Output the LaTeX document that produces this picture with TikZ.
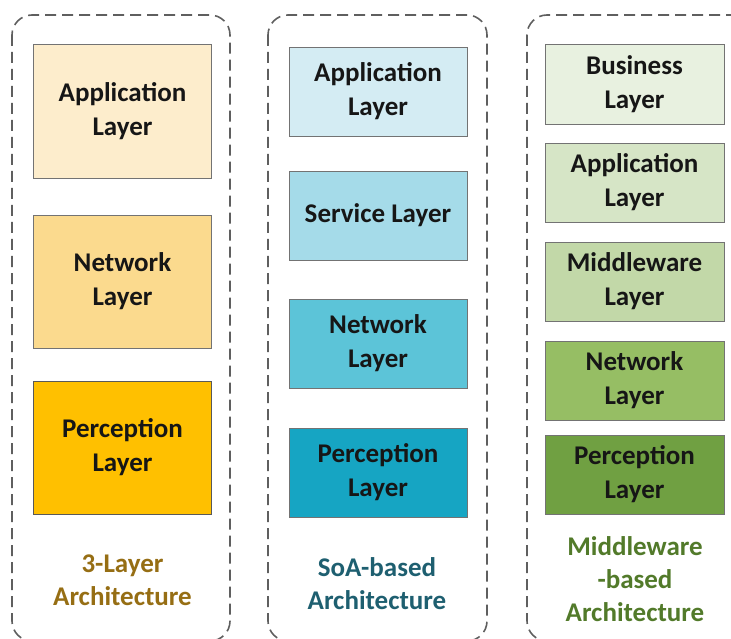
\documentclass[tikz,border=0pt]{standalone}
\usepackage{fontspec}
\setmainfont{Carlito}
\definecolor{cA1}{RGB}{253,237,204}
\definecolor{cA2}{RGB}{251,218,142}
\definecolor{cA3}{RGB}{255,192,0}
\definecolor{cB1}{RGB}{212,236,243}
\definecolor{cB2}{RGB}{165,219,233}
\definecolor{cB3}{RGB}{92,196,216}
\definecolor{cB4}{RGB}{22,165,195}
\definecolor{cC1}{RGB}{232,241,224}
\definecolor{cC2}{RGB}{214,229,198}
\definecolor{cC3}{RGB}{194,216,168}
\definecolor{cC4}{RGB}{150,190,100}
\definecolor{cC5}{RGB}{112,160,66}
\definecolor{tA}{RGB}{150,110,20}
\definecolor{tB}{RGB}{30,95,112}
\definecolor{tC}{RGB}{82,122,42}
\definecolor{frame}{RGB}{95,95,95}
\definecolor{ink}{RGB}{22,22,22}
\tikzset{
  x=1pt, y=-1pt,
  container/.style={draw=frame, line width=1.6pt, dash pattern=on 11pt off 6pt, rounded corners=20pt},
  layerbox/.style={draw=black!55, line width=0.9pt, minimum width=178pt, text=ink,
    align=center, font=\fontsize{27}{34}\selectfont\bfseries, inner sep=0pt},
  caption/.style={align=center, font=\fontsize{27}{33}\selectfont\bfseries, inner sep=0pt}
}
\begin{document}
\begin{tikzpicture}
\useasboundingbox (0,0) rectangle (731,639);
\clip (0,0) rectangle (731,639);
% containers
\draw[container] (12,15) rectangle (230,641);
\draw[container] (268,15) rectangle (487,641);
\draw[container] (527,15) rectangle (760,641);
% column 1
\node[layerbox, fill=cA1, minimum height=134pt] (a1) at (122.5,111) {Application\\Layer};
\node[layerbox, fill=cA2, minimum height=133pt] (a2) at (122.5,281.5) {Network\\Layer};
\node[layerbox, fill=cA3, draw=black!65, minimum height=133pt] (a3) at (122.5,447.5) {Perception\\Layer};
\node[caption, text=tA] (la) at (122.5,580) {3-Layer\\Architecture};
% column 2
\node[layerbox, fill=cB1, minimum height=89pt] (b1) at (378,91.5) {Application\\Layer};
\node[layerbox, fill=cB2, minimum height=89pt] (b2) at (378,215.5) {Service Layer};
\node[layerbox, fill=cB3, minimum height=89pt] (b3) at (378,343.5) {Network\\Layer};
\node[layerbox, fill=cB4, minimum height=89pt] (b4) at (378,472.5) {Perception\\Layer};
\node[caption, text=tB] (lb) at (377,584) {SoA-based\\Architecture};
% column 3
\node[layerbox, fill=cC1, minimum height=80pt, minimum width=179pt] (c1) at (634.5,84) {Business\\Layer};
\node[layerbox, fill=cC2, minimum height=79pt, minimum width=179pt] (c2) at (634.5,182.5) {Application\\Layer};
\node[layerbox, fill=cC3, minimum height=79pt, minimum width=179pt] (c3) at (634.5,281.5) {Middleware\\Layer};
\node[layerbox, fill=cC4, minimum height=79pt, minimum width=179pt] (c4) at (634.5,380.5) {Network\\Layer};
\node[layerbox, fill=cC5, minimum height=79pt, minimum width=179pt] (c5) at (634.5,474.5) {Perception\\Layer};
\node[caption, text=tC] (lc) at (635,579) {Middleware\\-based\\Architecture};
\end{tikzpicture}
\end{document}
